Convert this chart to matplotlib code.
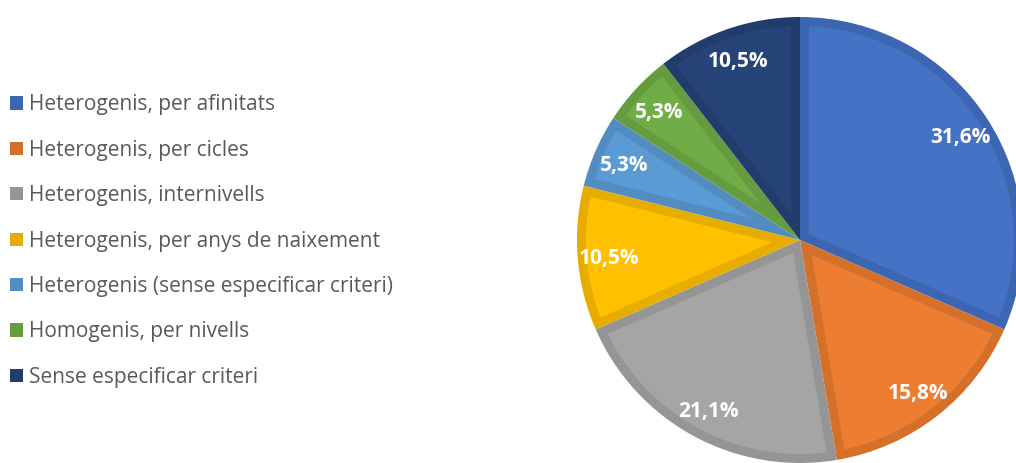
import numpy as np
import matplotlib
matplotlib.use("Agg")
import matplotlib.pyplot as plt
from matplotlib.patches import Patch, Polygon

categories = [
    "Heterogenis, per afinitats",
    "Heterogenis, per cicles",
    "Heterogenis, internivells",
    "Heterogenis, per anys de naixement",
    "Heterogenis (sense especificar criteri)",
    "Homogenis, per nivells",
    "Sense especificar criteri",
]
percent = [31.6, 15.8, 21.1, 10.5, 5.3, 5.3, 10.5]
pct_labels = ["31,6%", "15,8%", "21,1%", "10,5%", "5,3%", "5,3%", "10,5%"]

fill_colors = ["#4472C4", "#ED7D31", "#A5A5A5", "#FFC000", "#5B9BD5", "#70AD47", "#264478"]
edge_colors = ["#3C66B1", "#D5702B", "#959595", "#E6AD00", "#528CC0", "#659C40", "#223D6C"]

plt.rcParams['font.family'] = ['Open Sans', 'DejaVu Sans']

fig = plt.figure(figsize=(10.16, 4.63), dpi=100)
ax = fig.add_axes([0, 0, 1, 1])

cx, cy, R = 800, 463 - 240, 223
band = 9

wedges, _ = ax.pie(percent, colors=edge_colors, startangle=90, counterclock=False,
                   center=(cx, cy), radius=R, wedgeprops=dict(linewidth=0))

# lighter inner part of each slice, inset by the border width
for w, col in zip(wedges, fill_colors):
    t1, t2 = np.radians(w.theta1), np.radians(w.theta2)
    half = (t2 - t1) / 2
    mid = (t1 + t2) / 2
    shift = band / np.sin(half)
    apex = (cx + shift * np.cos(mid), cy + shift * np.sin(mid))
    r_in = R - band
    d = np.arcsin(band / r_in)
    ang = np.linspace(t1 + d, t2 - d, 80)
    pts = [apex] + [(cx + r_in * np.cos(a), cy + r_in * np.sin(a)) for a in ang]
    ax.add_patch(Polygon(pts, closed=True, facecolor=col, edgecolor='none'))

# percentage labels
for w, lab in zip(wedges, pct_labels):
    mid = np.radians((w.theta1 + w.theta2) / 2)
    rr = R * 0.86
    ax.text(cx + rr * np.cos(mid), cy + rr * np.sin(mid), lab, color='white',
            fontsize=15, fontweight='bold', ha='center', va='center_baseline')

ax.set_xlim(0, 1016)
ax.set_ylim(0, 463)
ax.set_aspect('equal')
ax.axis('off')

handles = [Patch(facecolor=c, edgecolor='none') for c in edge_colors]
leg = ax.legend(handles, categories, loc='center left',
                bbox_to_anchor=(10 / 1016, 1 - 241 / 463), frameon=False,
                fontsize=15, handlelength=0.6, handleheight=0.6,
                handletextpad=0.3, labelspacing=1.17, borderpad=0, borderaxespad=0)
for t in leg.get_texts():
    t.set_color('#595959')

fig.savefig('out.png', dpi=100)
